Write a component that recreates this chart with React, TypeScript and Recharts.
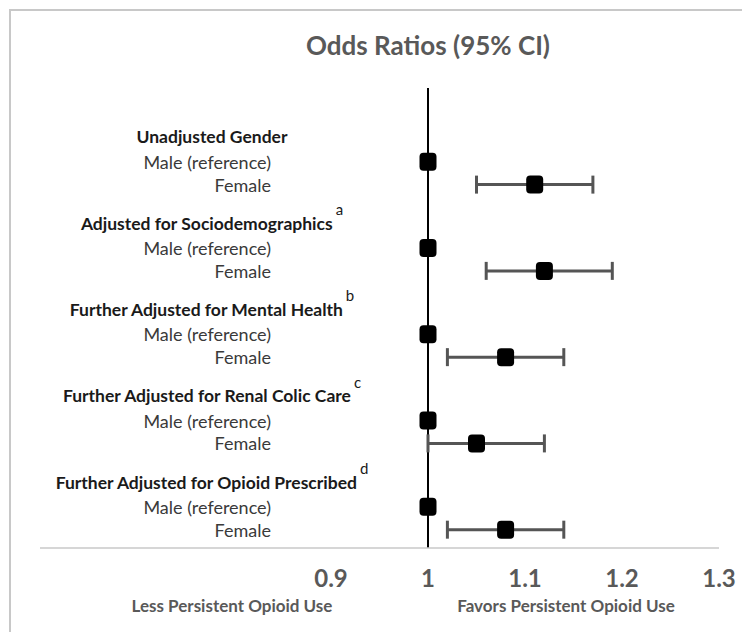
import React from 'react';
import {
  ScatterChart,
  Scatter,
  XAxis,
  YAxis,
  ErrorBar,
  ReferenceLine,
} from 'recharts';

// Data
const groups = [
  'Unadjusted Gender',
  'Adjusted for Sociodemographics',
  'Further Adjusted for Mental Health',
  'Further Adjusted for Renal Colic Care',
  'Further Adjusted for Opioid Prescribed',
];
const footnotes = ['', 'a', 'b', 'c', 'd'];
const maleOR = [1, 1, 1, 1, 1];
const femaleOR = [1.11, 1.12, 1.08, 1.05, 1.08];
const femaleLow = [1.05, 1.06, 1.02, 1.0, 1.02];
const femaleHigh = [1.17, 1.19, 1.14, 1.12, 1.14];
const xTicks = [0.9, 1, 1.1, 1.2, 1.3];

// row layout (in y-axis units)
const GROUP_STEP = 4;
const MALE_OFFSET = 1.15;
const FEMALE_OFFSET = 2.21;

const FONT = 'Lato, "Open Sans", sans-serif';

type Row = { pos: number; label: string; kind: 'header' | 'row'; sup?: string };

const rows: Row[] = groups.flatMap((g, i) => [
  { pos: i * GROUP_STEP, label: g, kind: 'header' as const, sup: footnotes[i] },
  { pos: i * GROUP_STEP + MALE_OFFSET, label: 'Male (reference)', kind: 'row' as const },
  { pos: i * GROUP_STEP + FEMALE_OFFSET, label: 'Female', kind: 'row' as const },
]);

const maleData = maleOR.map((v, i) => ({ x: v, y: i * GROUP_STEP + MALE_OFFSET }));
const femaleData = femaleOR.map((v, i) => ({
  x: v,
  y: i * GROUP_STEP + FEMALE_OFFSET,
  err: [v - femaleLow[i], femaleHigh[i] - v],
}));

const Marker = (props: any) => {
  const { cx, cy } = props;
  return <rect x={cx - 8.5} y={cy - 9} width={17} height={18} rx={4} ry={4} fill="#000" />;
};

const RowTick = (props: any) => {
  const { y, payload } = props;
  const row = rows.find((r) => Math.abs(r.pos - payload.value) < 1e-6);
  if (!row) return null;
  if (row.kind === 'header') {
    return (
      <text
        x={212}
        y={y}
        textAnchor="middle"
        dominantBaseline="central"
        fontFamily={FONT}
        fontSize={17.5}
        fontWeight={700}
        fill="#1a1a1a"
      >
        {row.label}
        {row.sup ? (
          <tspan dx={3} dy={-14} fontSize={15} fontWeight={400}>
            {row.sup}
          </tspan>
        ) : null}
      </text>
    );
  }
  return (
    <text
      x={271}
      y={y}
      textAnchor="end"
      dominantBaseline="central"
      fontFamily={FONT}
      fontSize={18}
      fill="#3a3a3a"
    >
      {row.label}
    </text>
  );
};

const ValueTick = (props: any) => {
  const { x, y, payload } = props;
  return (
    <text
      x={x}
      y={y + 21}
      textAnchor="middle"
      dominantBaseline="central"
      fontFamily={FONT}
      fontSize={24}
      fontWeight={700}
      fill="#595959"
    >
      {String(payload.value)}
    </text>
  );
};

export default function App() {
  return (
    <div
      style={{
        position: 'absolute',
        left: 0,
        top: 0,
        width: 742,
        height: 632,
        background: '#fff',
        overflow: 'hidden',
        fontFamily: FONT,
      }}
    >
      {/* chart frame, cropped on the right and bottom */}
      <div
        style={{
          position: 'absolute',
          left: 9,
          top: 9,
          width: 760,
          height: 660,
          borderLeft: '2px solid #c8c8c8',
          borderTop: '2px solid #c8c8c8',
        }}
      />
      <div
        style={{
          position: 'absolute',
          left: 228,
          width: 400,
          top: 29,
          textAlign: 'center',
          fontSize: 26,
          fontWeight: 700,
          color: '#595959',
        }}
      >
        Odds Ratios (95% CI)
      </div>

      <div style={{ position: 'absolute', left: 0, top: 0 }}>
        <ScatterChart width={742} height={632} margin={{ top: 88, right: 23, bottom: 54, left: 38 }}>
          <XAxis
            type="number"
            dataKey="x"
            domain={[0.6, 1.3]}
            ticks={xTicks}
            interval={0}
            allowDataOverflow
            tickLine={false}
            axisLine={{ stroke: '#c8c8c8', strokeWidth: 1.5 }}
            tick={<ValueTick />}
            height={30}
          />
          <YAxis
            type="number"
            dataKey="y"
            domain={[-2.27, 19.06]}
            reversed
            ticks={rows.map((r) => r.pos)}
            interval={0}
            allowDataOverflow
            width={2}
            axisLine={false}
            tickLine={false}
            tick={<RowTick />}
          />
          <ReferenceLine x={1} stroke="#000" strokeWidth={2} />
          <Scatter data={femaleData} shape={<Marker />} isAnimationActive={false}>
            <ErrorBar dataKey="err" direction="x" width={9} stroke="#555" strokeWidth={3} />
          </Scatter>
          <Scatter data={maleData} shape={<Marker />} isAnimationActive={false} />
        </ScatterChart>
      </div>

      <div
        style={{
          position: 'absolute',
          left: 82,
          width: 300,
          top: 595,
          textAlign: 'center',
          fontSize: 17,
          fontWeight: 700,
          color: '#595959',
        }}
      >
        Less Persistent Opioid Use
      </div>
      <div
        style={{
          position: 'absolute',
          left: 416,
          width: 300,
          top: 595,
          textAlign: 'center',
          fontSize: 17,
          fontWeight: 700,
          color: '#595959',
        }}
      >
        Favors Persistent Opioid Use
      </div>
    </div>
  );
}
